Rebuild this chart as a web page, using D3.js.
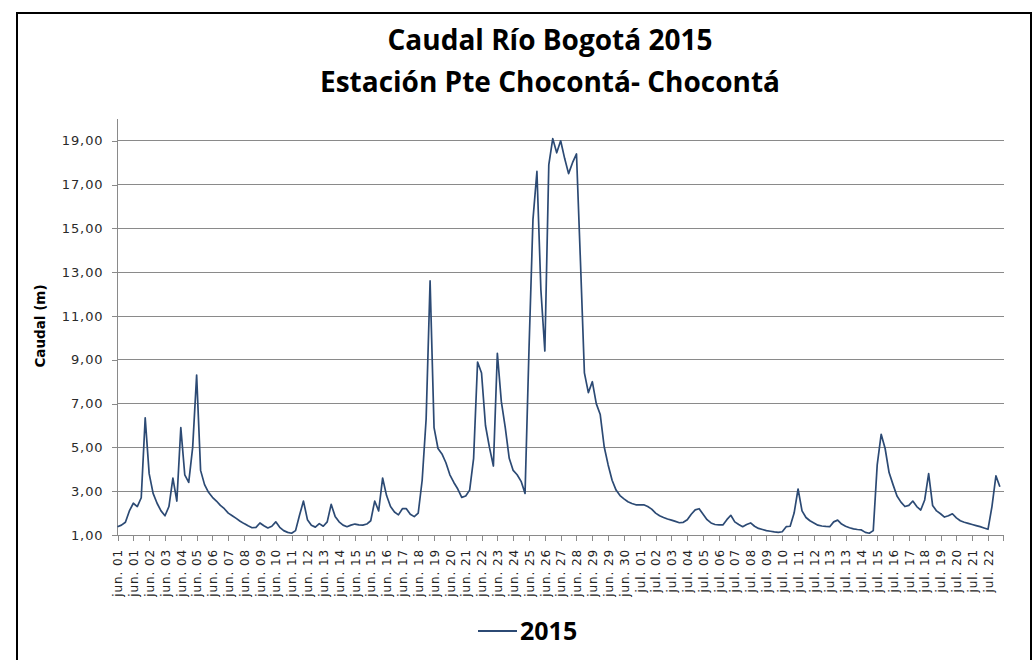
<!DOCTYPE html>
<html>
<head>
<meta charset="utf-8">
<script src="https://cdn.jsdelivr.net/npm/d3@7"></script>
<style>
  html, body { margin: 0; padding: 0; background: #fff; }
  svg { display: block; }
</style>
</head>
<body>
<svg id="chart" width="1036" height="660"></svg>
<script>
// ---------------- DATA ----------------
const titleLines = ["Caudal Río Bogotá 2015", "Estación Pte Chocontá- Chocontá"];
const yAxisTitle = "Caudal (m)";
const seriesName = "2015";

const xLabels = [
  "jun. 01","jun. 01","jun. 02","jun. 03","jun. 04","jun. 05","jun. 06","jun. 07","jun. 08","jun. 09",
  "jun. 10","jun. 11","jun. 12","jun. 13","jun. 14","jun. 15","jun. 15","jun. 16","jun. 17","jun. 18",
  "jun. 19","jun. 20","jun. 21","jun. 22","jun. 23","jun. 24","jun. 25","jun. 26","jun. 27","jun. 28",
  "jun. 29","jun. 29","jun. 30",
  "jul. 01","jul. 02","jul. 03","jul. 04","jul. 05","jul. 06","jul. 07","jul. 08","jul. 09","jul. 10",
  "jul. 11","jul. 12","jul. 13","jul. 13","jul. 14","jul. 15","jul. 16","jul. 17","jul. 18","jul. 19",
  "jul. 20","jul. 21","jul. 22"
];

// flow readings, 4 readings per category label interval
const flow2015 = [
  1.38,1.45,1.58,2.10,2.45,2.30,2.70,6.35,3.80,2.90,
  2.45,2.10,1.88,2.30,3.60,2.55,5.90,3.75,3.40,5.00,
  8.30,3.95,3.30,2.95,2.72,2.55,2.35,2.20,2.00,1.88,
  1.76,1.63,1.52,1.42,1.33,1.35,1.55,1.42,1.32,1.40,
  1.60,1.35,1.20,1.12,1.08,1.20,1.90,2.55,1.70,1.45,
  1.36,1.52,1.40,1.60,2.40,1.85,1.60,1.45,1.38,1.45,
  1.50,1.46,1.45,1.50,1.65,2.55,2.10,3.60,2.80,2.30,
  2.05,1.92,2.20,2.20,1.95,1.84,2.00,3.50,6.30,12.60,
  5.90,4.95,4.70,4.30,3.75,3.40,3.10,2.72,2.78,3.05,
  4.50,8.90,8.40,6.00,5.00,4.15,9.30,7.10,5.90,4.50,
  3.95,3.75,3.45,2.90,9.50,15.40,17.60,12.20,9.40,17.90,
  19.10,18.45,19.00,18.20,17.50,18.00,18.40,13.50,8.40,7.50,
  8.00,7.00,6.50,5.03,4.20,3.50,3.05,2.80,2.65,2.52,
  2.44,2.38,2.38,2.38,2.30,2.18,2.00,1.88,1.80,1.73,
  1.68,1.62,1.56,1.58,1.70,1.95,2.15,2.20,1.95,1.70,
  1.55,1.48,1.46,1.46,1.70,1.90,1.60,1.48,1.38,1.48,
  1.55,1.40,1.30,1.25,1.20,1.17,1.14,1.12,1.15,1.38,
  1.40,2.00,3.10,2.10,1.80,1.65,1.55,1.45,1.41,1.39,
  1.38,1.60,1.68,1.50,1.40,1.33,1.28,1.25,1.23,1.12,
  1.08,1.20,4.20,5.60,4.95,3.85,3.30,2.78,2.50,2.30,
  2.35,2.55,2.30,2.14,2.60,3.80,2.35,2.10,1.97,1.82,
  1.88,1.97,1.78,1.65,1.58,1.53,1.48,1.43,1.38,1.32,
  1.26,2.30,3.70,3.20
];
const readingsPerLabel = 4;

const yTicks = [1, 3, 5, 7, 9, 11, 13, 15, 17, 19];
const yMin = 1, yMax = 20;

// ---------------- CHART ----------------
(function () {
const svg = d3.select("#chart");
const W = 1036, H = 660;

svg.append("rect").attr("x", 0).attr("y", 0).attr("width", W).attr("height", H).attr("fill", "#fff");
// outer chart border
svg.append("rect")
  .attr("x", 17).attr("y", 13).attr("width", 1014).attr("height", 680)
  .attr("fill", "none").attr("stroke", "#000").attr("stroke-width", 2);

const plotLeft = 117.5, firstLabelX = 117.5, lastLabelX = 988, plotTop = 118.9, plotBottom = 535;
const x = d3.scaleLinear().domain([0, xLabels.length - 1]).range([firstLabelX, lastLabelX]);
const y = d3.scaleLinear().domain([yMin, yMax]).range([plotBottom, plotTop]);
const plotRight = x((flow2015.length) / readingsPerLabel);

const fmt = d3.formatLocale({decimal: ",", thousands: ".", grouping: [3], currency: ["", ""]}).format(".2f");

// gridlines
svg.append("g").selectAll("line")
  .data(yTicks.filter(d => d !== yMin))
  .join("line")
  .attr("x1", plotLeft).attr("x2", plotRight)
  .attr("y1", d => y(d)).attr("y2", d => y(d))
  .attr("stroke", "#8a8a8a").attr("stroke-width", 1)
  .attr("shape-rendering", "crispEdges");

// Y axis
const yAxis = d3.axisLeft(y).tickValues(yTicks).tickFormat(fmt).tickSize(6).tickPadding(8);
const gy = svg.append("g").attr("transform", `translate(${plotLeft},0)`).call(yAxis);
gy.select(".domain").remove();
gy.selectAll(".tick line").attr("stroke", "#8a8a8a").attr("shape-rendering", "crispEdges");
gy.selectAll(".tick text")
  .attr("font-family", "'DejaVu Sans', Verdana, sans-serif")
  .attr("font-size", 13).attr("letter-spacing", "0.9px")
  .attr("fill", "#2a2a2a");
svg.append("line")
  .attr("x1", plotLeft).attr("x2", plotLeft).attr("y1", y(yMin)).attr("y2", y(yMax))
  .attr("stroke", "#8a8a8a").attr("shape-rendering", "crispEdges");

// X axis
const xAxis = d3.axisBottom(x).tickValues(d3.range(xLabels.length))
  .tickFormat(i => xLabels[i]).tickSize(6);
const gx = svg.append("g").attr("transform", `translate(0,${plotBottom})`).call(xAxis);
gx.select(".domain").remove();
gx.selectAll(".tick line").attr("stroke", "#8a8a8a").attr("shape-rendering", "crispEdges");
gx.selectAll(".tick text")
  .attr("font-family", "'DejaVu Sans', Verdana, sans-serif")
  .attr("font-size", 12).attr("letter-spacing", "0.9px")
  .attr("fill", "#222")
  .attr("text-anchor", "end")
  .attr("transform", "translate(0,14) rotate(-90)")
  .attr("x", 0).attr("y", 0).attr("dy", "0.35em");
svg.append("line")
  .attr("x1", plotLeft).attr("x2", plotRight).attr("y1", plotBottom).attr("y2", plotBottom)
  .attr("stroke", "#8a8a8a").attr("shape-rendering", "crispEdges");
svg.append("line")
  .attr("x1", plotRight).attr("x2", plotRight).attr("y1", plotBottom).attr("y2", plotBottom + 6)
  .attr("stroke", "#8a8a8a").attr("shape-rendering", "crispEdges");

// line
const line = d3.line()
  .x((d, i) => x(i / readingsPerLabel))
  .y(d => y(d));
svg.append("path")
  .datum(flow2015)
  .attr("d", line)
  .attr("fill", "none")
  .attr("stroke", "#2c4a74")
  .attr("stroke-width", 1.7)
  .attr("stroke-linejoin", "round");

// titles
svg.append("g").selectAll("text")
  .data(titleLines)
  .join("text")
  .attr("x", 550).attr("y", (d, i) => 50 + i * 42)
  .attr("text-anchor", "middle")
  .attr("font-family", "'Open Sans', sans-serif")
  .attr("font-weight", "bold")
  .attr("font-size", 28)
  .attr("fill", "#000")
  .text(d => d);

// y axis title
svg.append("text")
  .attr("transform", "translate(45,326) rotate(-90)")
  .attr("text-anchor", "middle")
  .attr("font-family", "'DejaVu Sans', Verdana, sans-serif")
  .attr("font-weight", "bold")
  .attr("font-size", 13.5)
  .attr("fill", "#000")
  .text(yAxisTitle);

// legend
const lg = svg.append("g").attr("transform", "translate(478,631)");
lg.append("line").attr("x1", 0).attr("x2", 39).attr("y1", 0).attr("y2", 0)
  .attr("stroke", "#2c4a74").attr("stroke-width", 2);
lg.append("text").attr("x", 42).attr("y", 9)
  .attr("font-family", "'Open Sans', sans-serif")
  .attr("font-weight", "bold").attr("font-size", 25)
  .attr("fill", "#000")
  .text(seriesName);
})();
</script>
</body>
</html>
